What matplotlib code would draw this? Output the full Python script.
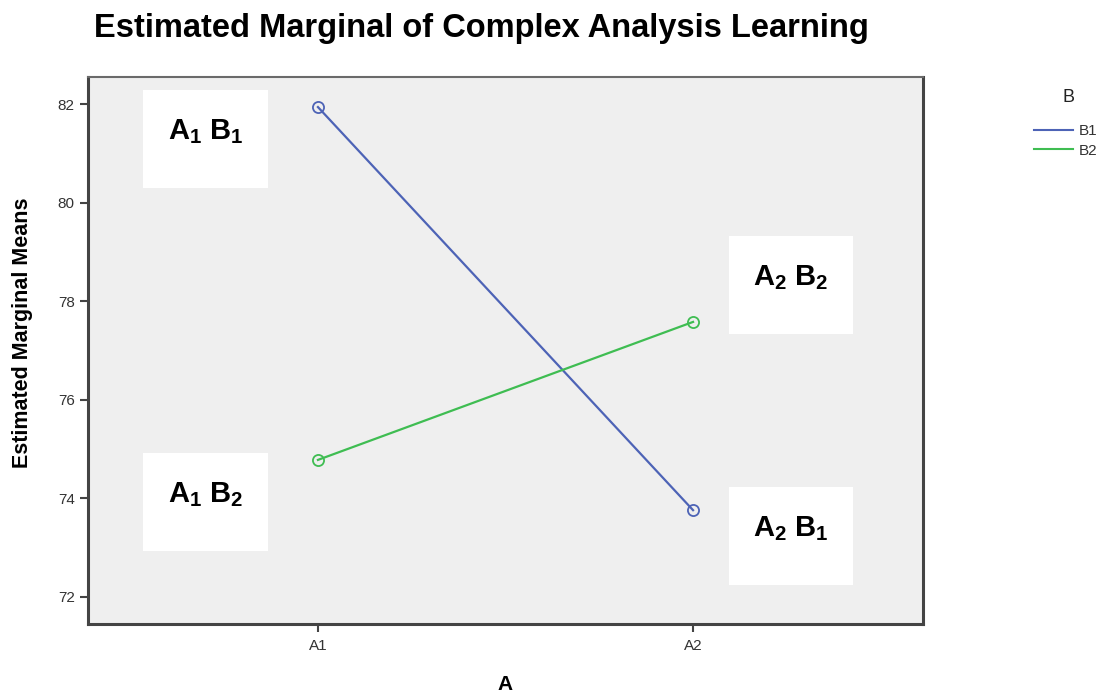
import matplotlib
matplotlib.use("Agg")
import matplotlib.pyplot as plt
from matplotlib.patches import Rectangle

# data
levels_a = ["A1", "A2"]
series_names = ["B1", "B2"]
b1_means = [81.94, 73.76]
b2_means = [74.78, 77.58]
y_ticks = [72, 74, 76, 78, 80, 82]

# cell labels: (text, box x0, box y0, box x1, box y1) in data units
cell_boxes = [
    ("A$_{\\mathbf{1}}$ B$_{\\mathbf{1}}$", -0.467, 80.30, -0.133, 82.28),
    ("A$_{\\mathbf{1}}$ B$_{\\mathbf{2}}$", -0.467, 72.93, -0.133, 74.92),
    ("A$_{\\mathbf{2}}$ B$_{\\mathbf{2}}$", 1.096, 77.33, 1.427, 79.32),
    ("A$_{\\mathbf{2}}$ B$_{\\mathbf{1}}$", 1.096, 72.24, 1.427, 74.23),
]

plt.rcParams["font.family"] = ["Liberation Sans", "DejaVu Sans"]
plt.rcParams["mathtext.fontset"] = "custom"
plt.rcParams["mathtext.rm"] = "Liberation Sans:bold"
plt.rcParams["mathtext.bf"] = "Liberation Sans:bold"

W, H = 1112, 693
fig = plt.figure(figsize=(W / 100, H / 100), dpi=100)
fig.patch.set_facecolor("white")

left, right, top, bottom = 88, 923, 77, 624
ax = fig.add_axes([left / W, 1 - bottom / H, (right - left) / W, (bottom - top) / H])
ax.set_facecolor("#efefef")

x = list(range(len(levels_a)))
ax.plot(x, b1_means, color="#4d63b6", lw=1.6, marker="o", ms=8,
        mfc="none", mec="#4d63b6", mew=1.3, label=series_names[0], zorder=3)
ax.plot(x, b2_means, color="#3fbd52", lw=1.6, marker="o", ms=8,
        mfc="none", mec="#3fbd52", mew=1.3, label=series_names[1], zorder=3)

for text, x0, y0, x1, y1 in cell_boxes:
    ax.add_patch(Rectangle((x0, y0), x1 - x0, y1 - y0, facecolor="white",
                           edgecolor="none", zorder=2))
    ax.text((x0 + x1) / 2, y1 - 0.42 * (y1 - y0), text, ha="center", va="center",
            fontsize=21, fontweight="bold", zorder=4)

ax.set_xlim(-0.613, 1.613)
ax.set_ylim(71.45, 82.55)
ax.set_xticks(x)
ax.set_xticklabels(levels_a)
ax.set_yticks(y_ticks)
ax.tick_params(axis="both", length=6, width=1.5, color="#444444",
               labelsize=11, labelcolor="#333333")
ax.tick_params(axis="x", pad=5)

for side in ["left", "right", "top", "bottom"]:
    ax.spines[side].set_color("#444444")
    ax.spines[side].set_linewidth(2.2)
ax.spines["top"].set_color("#6a6a6a")
ax.spines["top"].set_linewidth(1.5)

ax.set_xlabel("A", fontsize=15, fontweight="bold", labelpad=16)
ax.set_ylabel("Estimated Marginal Means", fontsize=15.5, fontweight="bold")
ax.yaxis.set_label_coords(-0.066, 0.532)

fig.text(481 / W, 1 - 29 / H, "Estimated Marginal of Complex Analysis Learning",
         ha="center", va="center", fontsize=23.5, fontweight="bold")

# legend: title drawn separately to match the wide gap above the entries
fig.text(1069 / W, 1 - 97 / H, "B", ha="center", va="center", fontsize=13,
         color="#222222")
leg = fig.legend(loc="center left", bbox_to_anchor=(1026 / W, 1 - 141 / H),
                 frameon=False, fontsize=11, borderpad=0,
                 handlelength=2.6, handletextpad=0.35, labelspacing=0.35)
for h in leg.legend_handles:
    h.set_marker("")
    h.set_linewidth(1.5)
for t in leg.get_texts():
    t.set_color("#333333")

fig.savefig("out.png", dpi=100)
